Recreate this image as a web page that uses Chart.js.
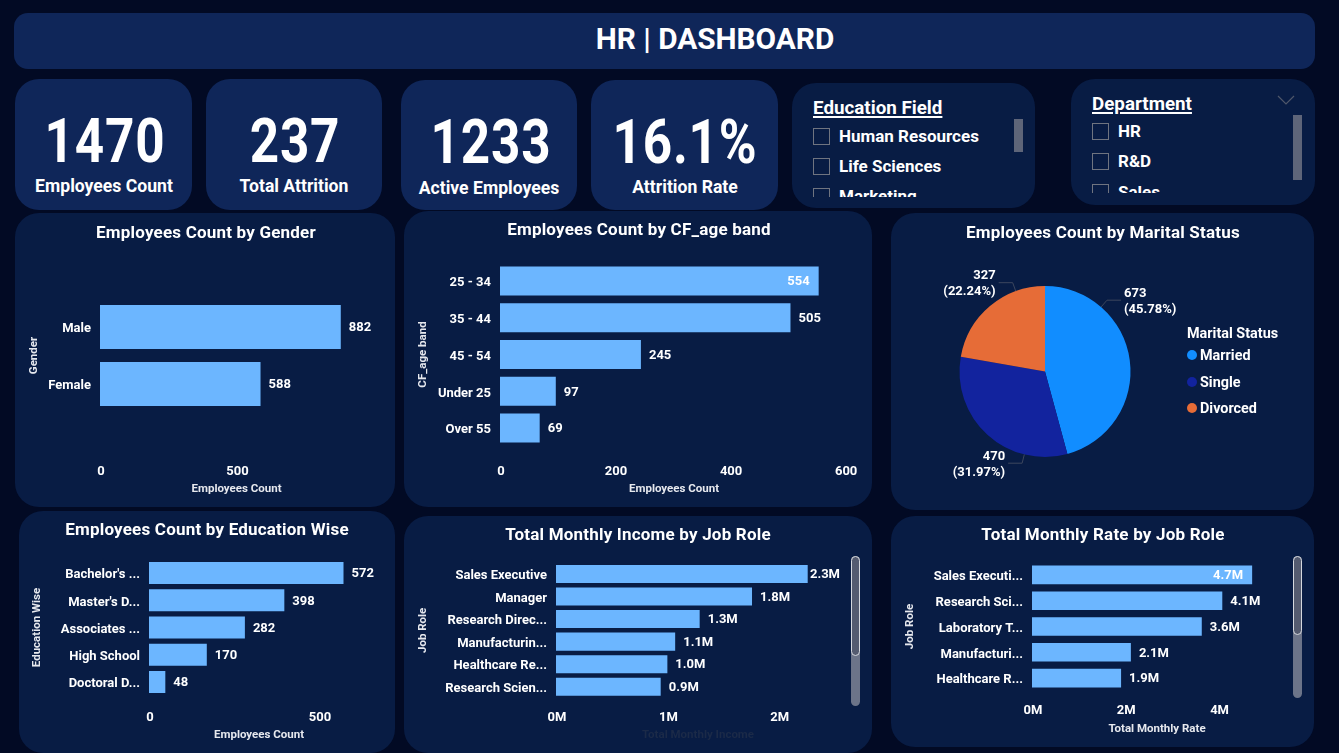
<!DOCTYPE html>
<html>
<head>
<meta charset="utf-8">
<title>HR | DASHBOARD</title>
<script src="https://cdn.jsdelivr.net/npm/chart.js@4"></script>
<style>
  html, body { margin: 0; padding: 0; background: #020a24; width: 1339px; height: 753px; overflow: hidden; }
  body { position: relative; color: #fff; font-family: Roboto, sans-serif; font-weight: 700; }
  .card { position: absolute; background: #081c44; border-radius: 24px; overflow: hidden; }
  .dark { background: #0f2659; }
  .abs { position: absolute; white-space: nowrap; line-height: 1; transform: translate(-50%, -50%); }
  canvas { position: absolute; left: 0; top: 0; }
  .kpi { font-size: 61px; letter-spacing: 1px; transform: translate(-50%, -50%) scaleX(.84); }
  .kpiName { font-size: 17.6px; }
  .ctitle { font-size: 17px; letter-spacing: .2px; }
  .slicerName { position: absolute; font-size: 18.8px; text-decoration: underline; text-decoration-thickness: 2px; text-underline-offset: 2px; line-height: 1; white-space: nowrap; }
  .opt { position: absolute; font-size: 17px; line-height: 1; white-space: nowrap; }
  .box { position: absolute; width: 15px; height: 15px; border: 1px solid #6f7480; }
  .sbar { position: absolute; background: #5e6579; }
  .scroll { position: absolute; width: 9px; background: #6c7489; border-radius: 5px; }
  .thumb { position: absolute; left: 0; top: 0; width: 9px; box-sizing: border-box; background: #545b70; border: 1px solid #d5d8de; border-radius: 5px; }
  .legendName { position: absolute; font-size: 14.4px; line-height: 1; white-space: nowrap; }
  .dot { position: absolute; width: 10px; height: 10px; border-radius: 50%; }
</style>
</head>
<body>
<div class="card dark" style="left:14px;top:13px;width:1301px;height:56px;border-radius:14px">
  <div class="abs" style="left:701px;top:26px;font-size:29.8px">HR | DASHBOARD</div>
</div>

<div class="card dark" style="left:15px;top:79px;width:177px;height:131px">
  <div class="abs kpi" style="left:90px;top:62px">1470</div>
  <div class="abs kpiName" style="left:89px;top:107.5px">Employees Count</div>
</div>
<div class="card dark" style="left:206px;top:79px;width:176px;height:131px">
  <div class="abs kpi" style="left:89px;top:62px">237</div>
  <div class="abs kpiName" style="left:88px;top:107.5px">Total Attrition</div>
</div>
<div class="card dark" style="left:401px;top:80px;width:176px;height:130px">
  <div class="abs kpi" style="left:90px;top:62px">1233</div>
  <div class="abs kpiName" style="left:88px;top:108.5px">Active Employees</div>
</div>
<div class="card dark" style="left:591px;top:80px;width:187px;height:130px">
  <div class="abs kpi" style="left:94px;top:62px">16.1%</div>
  <div class="abs kpiName" style="left:94px;top:107.5px">Attrition Rate</div>
</div>

<div class="card" id="eduSlicer" style="left:792px;top:83px;width:243px;height:125px">
  <div class="slicerName" style="left:21px;top:15.5px">Education Field</div>
  <div class="sbar" style="left:222px;top:36px;width:9px;height:33px"></div>
</div>
<div class="card" id="deptSlicer" style="left:1071px;top:79px;width:244px;height:126px">
  <div class="slicerName" style="left:21px;top:15.5px">Department</div>
  <svg class="abs" style="left:215px;top:21px;transform:translate(-50%,-50%)" width="18" height="10"><path d="M1 1 L9 9 L17 1" fill="none" stroke="#4e5669" stroke-width="1.2"/></svg>
  <div class="sbar" style="left:222px;top:36px;width:9px;height:65px"></div>
</div>

<div class="card" id="genderCard" style="left:15px;top:213px;width:380px;height:294px">
  <canvas id="genderChart" width="380" height="294"></canvas>
  <div class="abs ctitle" style="left:191px;top:19px">Employees Count by Gender</div>
</div>
<div class="card" id="ageCard" style="left:404px;top:211px;width:468px;height:296px">
  <canvas id="ageChart" width="468" height="296"></canvas>
  <div class="abs ctitle" style="left:235px;top:18px">Employees Count by CF_age band</div>
</div>
<div class="card" id="maritalCard" style="left:891px;top:213px;width:423px;height:297px">
  <canvas id="maritalChart" width="423" height="297"></canvas>
  <div class="abs ctitle" style="left:212px;top:19px">Employees Count by Marital Status</div>
  <div id="maritalLegend"></div>
</div>
<div class="card" id="eduCard" style="left:19px;top:511px;width:376px;height:242px">
  <canvas id="eduChart" width="376" height="242"></canvas>
  <div class="abs ctitle" style="left:188px;top:18px">Employees Count by Education Wise</div>
</div>
<div class="card" id="incomeCard" style="left:404px;top:516px;width:468px;height:237px">
  <canvas id="incomeChart" width="468" height="237"></canvas>
  <div class="abs ctitle" style="left:234px;top:18px">Total Monthly Income by Job Role</div>
  <div class="scroll" style="left:447px;top:40px;height:150px"><div class="thumb" style="height:100px"></div></div>
</div>
<div class="card" id="rateCard" style="left:891px;top:516px;width:423px;height:231px">
  <canvas id="rateChart" width="423" height="231"></canvas>
  <div class="abs ctitle" style="left:212px;top:18px">Total Monthly Rate by Job Role</div>
  <div class="scroll" style="left:402px;top:40px;height:142px"><div class="thumb" style="height:79px"></div></div>
</div>

<script>
// data
const genderLabels = ['Male', 'Female'];
const genderCounts = [882, 588];
const genderTicks = [0, 500];
const ageLabels = ['25 - 34', '35 - 44', '45 - 54', 'Under 25', 'Over 55'];
const ageCounts = [554, 505, 245, 97, 69];
const ageTicks = [0, 200, 400, 600];
const maritalLabels = ['Married', 'Single', 'Divorced'];
const maritalCounts = [673, 470, 327];
const maritalPercents = ['45.78%', '31.97%', '22.24%'];
const educationLabels = ["Bachelor's ...", "Master's D...", 'Associates ...', 'High School', 'Doctoral D...'];
const educationCounts = [572, 398, 282, 170, 48];
const educationTicks = [0, 500];
const incomeRoles = ['Sales Executive', 'Manager', 'Research Direc...', 'Manufacturin...', 'Healthcare Re...', 'Research Scien...'];
const incomeTotals = [2260000, 1760000, 1290000, 1070000, 1000000, 940000];
const incomeTicks = [0, 1000000, 2000000];
const rateRoles = ['Sales Executi...', 'Research Sci...', 'Laboratory T...', 'Manufacturi...', 'Healthcare R...'];
const rateTotals = [4720000, 4080000, 3640000, 2120000, 1910000];
const rateTicks = [0, 2000000, 4000000];
const educationFields = ['Human Resources', 'Life Sciences', 'Marketing'];
const departments = ['HR', 'R&D', 'Sales'];

const FONT = 'Roboto, sans-serif';
const BAR_COLOR = '#6cb6ff';
const PIE_COLORS = ['#118dff', '#12239e', '#e66c37'];

const millions = v => (v / 1000000).toFixed(1) + 'M';
const wholeMillions = v => (v / 1000000).toFixed(0) + 'M';

// value labels at the end of each bar
const valueLabels = {
  id: 'valueLabels',
  afterDatasetsDraw(chart, args, opts) {
    const ctx = chart.ctx;
    const bars = chart.getDatasetMeta(0).data;
    const values = chart.data.datasets[0].data;
    ctx.save();
    ctx.font = '700 13px ' + FONT;
    ctx.fillStyle = '#fff';
    ctx.textBaseline = 'middle';
    bars.forEach((bar, i) => {
      const text = opts.format ? opts.format(values[i]) : String(values[i]);
      const w = ctx.measureText(text).width;
      let x = bar.x + 8;
      if (opts.inside && opts.inside.includes(i)) x = bar.x - 9 - w;
      else if (opts.clamp) x = Math.min(x, chart.chartArea.right - w);
      ctx.fillText(text, x, bar.y + 1);
    });
    ctx.restore();
  }
};

function makeBar(id, labels, values, ticks, box) {
  new Chart(document.getElementById(id), {
    type: 'bar',
    data: {
      labels: labels,
      datasets: [{ data: values, backgroundColor: BAR_COLOR, barPercentage: box.bar, categoryPercentage: 1 }]
    },
    options: {
      indexAxis: 'y',
      responsive: false,
      animation: false,
      layout: { padding: { left: 0, top: box.top, right: box.w - box.right, bottom: 0 } },
      plugins: {
        legend: { display: false },
        tooltip: { enabled: false },
        valueLabels: { inside: box.inside, format: box.format, clamp: box.clamp }
      },
      scales: {
        x: {
          min: 0,
          max: box.max,
          grid: { display: false, drawTicks: false },
          border: { display: false },
          // ticks.padding also feeds the side padding, so pin the plot box here
          afterFit: s => { s.height = box.h - box.bottom; s.paddingLeft = 0; s.paddingRight = 0; },
          afterBuildTicks: s => { s.ticks = ticks.map(v => ({ value: v })); },
          ticks: {
            maxRotation: 0,
            autoSkip: false,
            labelOffset: 1,
            padding: box.tickY - box.bottom - 6,
            color: '#fff',
            font: { family: FONT, size: 13, weight: '700' },
            callback: box.tickFormat || (v => v)
          },
          title: {
            display: true,
            text: box.xTitle,
            color: box.xTitleColor || '#e6e8ee',
            padding: { top: 0, bottom: box.h - box.titleY - 7.9 },
            font: { family: FONT, size: 11.5, weight: '700' }
          }
        },
        y: {
          grid: { display: false, drawTicks: false },
          border: { display: false },
          afterFit: s => { s.width = box.left; s.paddingTop = 0; s.paddingBottom = 0; },
          ticks: {
            autoSkip: false,
            padding: 9,
            labelOffset: 2,
            color: '#fff',
            font: { family: FONT, size: 13, weight: '700' }
          },
          title: {
            display: true,
            text: box.yTitle,
            color: '#e6e8ee',
            padding: { top: box.yTitleX - 5.9, bottom: 0 },
            font: { family: FONT, size: 11.5, weight: '700' }
          }
        }
      }
    },
    plugins: [valueLabels]
  });
}

makeBar('genderChart', genderLabels, genderCounts, genderTicks, {
  w: 380, h: 294, left: 85, right: 358, top: 85.5, bottom: 199.5, bar: 0.77, max: 1000,
  tickY: 257, titleY: 275, yTitleX: 18, xTitle: 'Employees Count', yTitle: 'Gender'
});
makeBar('ageChart', ageLabels, ageCounts, ageTicks, {
  w: 468, h: 296, left: 96, right: 444, top: 51.6, bottom: 235.4, bar: 0.79, max: 605,
  tickY: 259, titleY: 277, yTitleX: 18, xTitle: 'Employees Count', yTitle: 'CF_age band', inside: [0]
});
makeBar('eduChart', educationLabels, educationCounts, educationTicks, {
  w: 376, h: 242, left: 130, right: 350, top: 48.4, bottom: 184.6, bar: 0.8, max: 647,
  tickY: 205, titleY: 223, yTitleX: 17, xTitle: 'Employees Count', yTitle: 'Education Wise'
});
makeBar('incomeChart', incomeRoles, incomeTotals, incomeTicks, {
  w: 468, h: 237, left: 152, right: 436, top: 46.7, bottom: 182, bar: 0.8, max: 2550000,
  tickY: 200, titleY: 218, yTitleX: 18, xTitle: 'Total Monthly Income', yTitle: 'Job Role',
  xTitleColor: '#1b2a48', format: millions, tickFormat: wholeMillions, clamp: true
});
makeBar('rateChart', rateRoles, rateTotals, rateTicks, {
  w: 423, h: 231, left: 141, right: 391, top: 46, bottom: 175, bar: 0.72, max: 5360000,
  tickY: 193, titleY: 212, yTitleX: 18, xTitle: 'Total Monthly Rate', yTitle: 'Job Role',
  inside: [0], format: millions, tickFormat: wholeMillions
});

// count and percent beside the pie, with a bent leader line
const pieLabels = {
  id: 'pieLabels',
  afterDatasetsDraw(chart, args, opts) {
    const ctx = chart.ctx;
    const arcs = chart.getDatasetMeta(0).data;
    ctx.save();
    ctx.font = '700 13px ' + FONT;
    ctx.textBaseline = 'middle';
    arcs.forEach((arc, i) => {
      const a = (opts.leaderAngles[i] - 90) * Math.PI / 180;
      const r = arc.outerRadius;
      const sx = arc.x + Math.cos(a) * r, sy = arc.y + Math.sin(a) * r;
      const ex = arc.x + Math.cos(a) * (r + 9), ey = arc.y + Math.sin(a) * (r + 9);
      const side = Math.cos(a) >= 0 ? 1 : -1;
      const tx = ex + side * 14;
      ctx.strokeStyle = '#3d475e';
      ctx.lineWidth = 1;
      ctx.beginPath();
      ctx.moveTo(sx, sy);
      ctx.lineTo(ex, ey);
      ctx.lineTo(tx, ey);
      ctx.stroke();
      ctx.fillStyle = '#fff';
      ctx.textAlign = side > 0 ? 'left' : 'right';
      ctx.fillText(String(chart.data.datasets[0].data[i]), tx + side * 3, ey - 6.5);
      ctx.fillText('(' + opts.percents[i] + ')', tx + side * 3, ey + 9.5);
    });
    ctx.restore();
  }
};

new Chart(document.getElementById('maritalChart'), {
  type: 'pie',
  data: {
    labels: maritalLabels,
    datasets: [{ data: maritalCounts, backgroundColor: PIE_COLORS, borderWidth: 0 }]
  },
  options: {
    responsive: false,
    animation: false,
    layout: { padding: { left: 68, right: 183, top: 73, bottom: 53 } },
    plugins: {
      legend: { display: false },
      tooltip: { enabled: false },
      pieLabels: { leaderAngles: [41, 194, 340], percents: maritalPercents }
    }
  },
  plugins: [pieLabels]
});

// slicer rows and the pie legend are plain elements
function addSlicerRows(cardId, names, firstY, rowH, clipAt) {
  const card = document.getElementById(cardId);
  const clip = document.createElement('div');
  clip.style.cssText = 'position:absolute;left:0;top:0;width:100%;height:' + clipAt + 'px;overflow:hidden';
  names.forEach((name, i) => {
    const y = firstY + i * rowH;
    const box = document.createElement('div');
    box.className = 'box';
    box.style.left = '21px';
    box.style.top = (y - 9) + 'px';
    const opt = document.createElement('div');
    opt.className = 'opt';
    opt.style.left = '47px';
    opt.style.top = (y - 9) + 'px';
    opt.textContent = name;
    clip.appendChild(box);
    clip.appendChild(opt);
  });
  card.appendChild(clip);
}
addSlicerRows('eduSlicer', educationFields, 53.5, 30, 114);
addSlicerRows('deptSlicer', departments, 52.5, 30.5, 114);

const legendEl = document.getElementById('maritalLegend');
const legendTitle = document.createElement('div');
legendTitle.className = 'legendName';
legendTitle.style.cssText = 'left:296px;top:114px';
legendTitle.textContent = 'Marital Status';
legendEl.appendChild(legendTitle);
maritalLabels.forEach((name, i) => {
  const y = 142 + i * 26.5;
  const dot = document.createElement('div');
  dot.className = 'dot';
  dot.style.cssText = 'left:296px;top:' + (y - 5) + 'px;background:' + PIE_COLORS[i];
  const text = document.createElement('div');
  text.className = 'legendName';
  text.style.cssText = 'left:309px;top:' + (y - 6) + 'px';
  text.textContent = name;
  legendEl.appendChild(dot);
  legendEl.appendChild(text);
});
</script>
</body>
</html>
